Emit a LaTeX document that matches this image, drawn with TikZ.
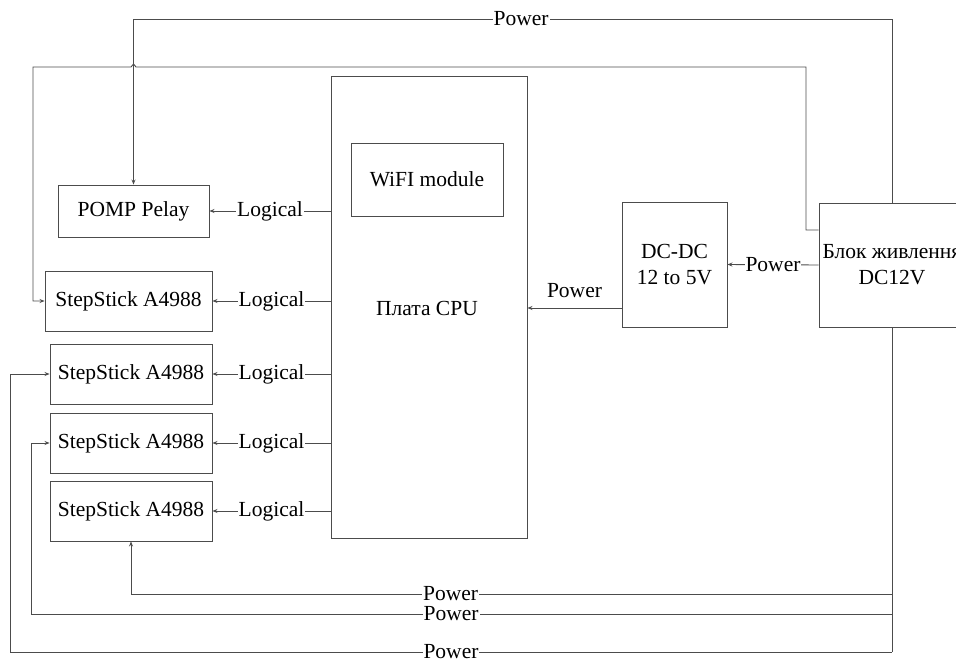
\documentclass[tikz,border=0pt]{standalone}
\usepackage{fontspec}
\setmainfont{Liberation Serif}
\usetikzlibrary{arrows.meta}
\begin{document}
\begin{tikzpicture}[x=1pt,y=-1pt,
  every node/.style={font=\fontsize{21.5}{26}\selectfont, text=black},
  box/.style={draw=black!70, line width=0.9pt, align=center, inner sep=2pt},
  wire/.style={draw=black!70, line width=0.9pt},
  arr/.style={wire, -{Stealth[length=5pt,width=4pt]}},
  lbl/.style={fill=white, inner sep=1pt}]
\useasboundingbox (0,0) rectangle (956,659);
\node[box, minimum width=196, minimum height=462] (cpu) at (429,307) {};
\node at (427,308) (cputxt) {Плата CPU};
\node[box, minimum width=152, minimum height=73] (wifi) at (427,179.5) {WiFI module};
\node[box, minimum width=151, minimum height=52] (pomp) at (133.5,211) {POMP Pelay};
\node[box, minimum width=167, minimum height=60] (ss1) at (128.5,301) {StepStick A4988};
\node[box, minimum width=162, minimum height=60] (ss2) at (131,374) {StepStick A4988};
\node[box, minimum width=162, minimum height=60] (ss3) at (131,443) {StepStick A4988};
\node[box, minimum width=162, minimum height=60] (ss4) at (131,511) {StepStick A4988};
\node[box, minimum width=105, minimum height=125] (dcdc) at (674.5,264.5) {DC-DC\\12 to 5V};
\node[box, minimum width=146, minimum height=124] (psu) at (892,265) {Блок живлення\\DC12V};
% logical
\draw[arr] (cpu.west |- pomp.east) -- node[lbl]{Logical} (pomp.east);
\draw[arr] (cpu.west |- ss1.east) -- node[lbl]{Logical} (ss1.east);
\draw[arr] (cpu.west |- ss2.east) -- node[lbl]{Logical} (ss2.east);
\draw[arr] (cpu.west |- ss3.east) -- node[lbl]{Logical} (ss3.east);
\draw[arr] (cpu.west |- ss4.east) -- node[lbl]{Logical} (ss4.east);
% power dc
\draw[arr] (psu.west) -- node[lbl]{Power} (dcdc.east);
\draw[arr] (dcdc.west |- 0,308) -- node[above=10pt, inner sep=0pt]{Power} (cpu.east |- 0,308);
% top power to pomp
\draw[arr] (psu.north) -- (892,19) -- node[lbl,pos=0.489]{Power} (133.5,19) -- (pomp.north);
% second line to ss1
\draw[arr] (psu.west |- 0,230) -- (806,230) -- (806,67) -- (136,67) -- (133.5,64) -- (131,67) -- (33,67) |- (ss1.west);
% bottom power lines
\draw[wire] (psu.south) -- (892,652);
\draw[arr] (892,594) -- node[lbl,pos=0.58]{Power} (131,594) -- (ss4.south);
\draw[arr] (892,614) -- node[lbl,pos=0.512]{Power} (31,614) |- (ss3.west);
\draw[arr] (892,652) -- node[lbl,pos=0.5]{Power} (10,652) |- (ss2.west);
\end{tikzpicture}
\end{document}
